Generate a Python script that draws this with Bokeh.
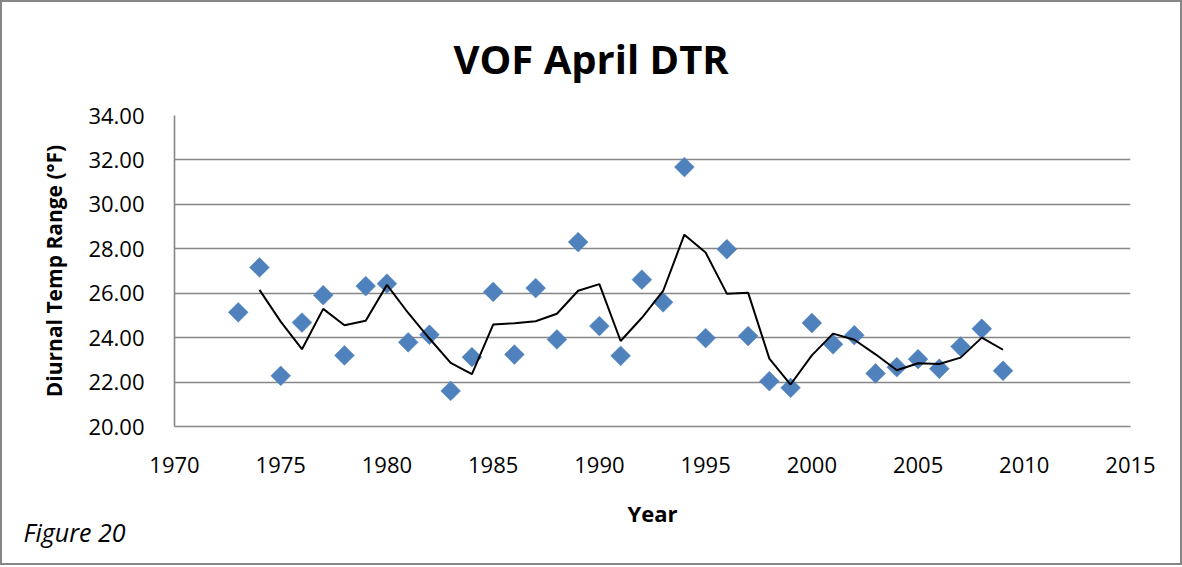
from bokeh.plotting import figure
from bokeh.models import Range1d, SingleIntervalTicker, NumeralTickFormatter, Title
from bokeh.embed import file_html
from bokeh.resources import INLINE
import numpy as np

# ---- data ----
years = list(range(1973, 2010))
dtr = [25.14, 27.16, 22.28, 24.68, 25.91, 23.20, 26.32, 26.43, 23.79, 24.13,
       21.60, 23.12, 26.06, 23.24, 26.23, 23.92, 28.30, 24.52, 23.18, 26.61,
       25.59, 31.68, 23.98, 27.98, 24.07, 22.04, 21.74, 24.66, 23.70, 24.11,
       22.39, 22.67, 23.03, 22.60, 23.60, 24.40, 22.51]
title_text = "VOF April DTR"
x_label = "Year"
y_label = "Diurnal Temp Range (°F)"
caption = "Figure 20"

# 2-period moving average trendline (as in the spreadsheet chart)
arr = np.array(dtr)
ma_years = years[1:]
ma_vals = list((arr[1:] + arr[:-1]) / 2.0)

FONT = "Open Sans"
GRID = "#868686"

p = figure(width=1182, height=565, output_backend="svg", toolbar_location=None,
           x_range=Range1d(1970, 2015), y_range=Range1d(20, 34),
           min_border_left=172, min_border_right=54,
           min_border_top=113, min_border_bottom=141, title=None)
p.styles = {"border": "2px solid #868686"}
p.outline_line_color = None
p.background_fill_color = "white"
p.border_fill_color = "white"

# grid
p.xgrid.grid_line_color = None
p.ygrid.grid_line_color = GRID
p.ygrid.grid_line_width = 1.6
p.yaxis.ticker = SingleIntervalTicker(interval=2)
p.xaxis.ticker = SingleIntervalTicker(interval=5)
p.yaxis.formatter = NumeralTickFormatter(format="0.00")

for ax in (p.xaxis, p.yaxis):
    ax.axis_line_color = GRID
    ax.axis_line_width = 1.6
    ax.major_tick_line_color = None
    ax.minor_tick_line_color = None
    ax.major_tick_out = 0
    ax.major_tick_in = 0
    ax.major_label_text_font = FONT
    ax.major_label_text_font_size = "22px"
    ax.major_label_text_color = "black"
    ax.axis_label_text_font = FONT
    ax.axis_label_text_font_style = "bold"
    ax.axis_label_text_color = "black"

p.xaxis.major_label_standoff = 26
p.yaxis.major_label_standoff = 26
p.xaxis.axis_label = x_label
p.xaxis.axis_label_text_font_size = "22px"
p.xaxis.axis_label_standoff = 22
p.yaxis.axis_label = y_label
p.yaxis.axis_label_text_font_size = "21px"
p.yaxis.axis_label_standoff = 17

# data
p.scatter(years, dtr, marker="square", size=14, angle=np.pi / 4,
          fill_color="#4F81BD", line_color="#4F81BD", line_width=0.5)
p.line(ma_years, ma_vals, line_color="black", line_width=2)

# title and caption
p.add_layout(Title(text=title_text, text_font=FONT, text_font_size="40px",
                   text_font_style="bold", align="left", offset=279,
                   standoff=55, text_line_height=0.8, vertical_align="top",
                   text_color="black"), "above")
p.add_layout(Title(text=caption, text_font=FONT, text_font_size="25px",
                   text_font_style="italic", align="left", offset=-151,
                   standoff=-35, text_color="black"), "below")

open("out.html", "w").write(file_html(p, INLINE))
